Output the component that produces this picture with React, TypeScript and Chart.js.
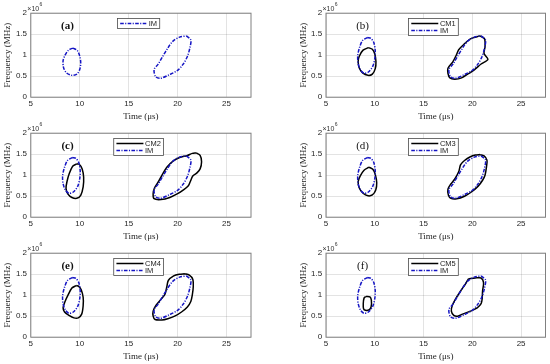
import React, { useEffect, useRef } from 'react';
import { Chart, registerables } from 'chart.js';

Chart.register(...registerables);

type Pt = [number, number];

// ---- axes ----
const xTickValues = [5, 10, 15, 20, 25];
const xTickLabels = ['5', '10', '15', '20', '25'];
const yTickValues = [0, 0.5, 1, 1.5, 2];
const yTickLabels = ['0', '0.5', '1', '1.5', '2'];
const xRange = [5, 27.5];
const yRange = [0, 2];
const xTitle = 'Time (μs)';
const yTitle = 'Frequency (MHz)';
const exponentBase = '×10';
const exponentPower = '6';

// ---- panel labels ----
const panelTags = ['(a)', '(b)', '(c)', '(d)', '(e)', '(f)'];
const tagPos: Pt = [8.75, 1.69];
const cmNames = ['', 'CM1', 'CM2', 'CM3', 'CM4', 'CM5'];
const imName = 'IM';

// ---- contours (time µs, frequency ×1e6 MHz) ----
const imSmallA: Pt[] = [
  [9.3, 1.17], [8.85, 1.12], [8.5, 1.0], [8.3, 0.87], [8.35, 0.7], [8.65, 0.58],
  [9.2, 0.52], [9.7, 0.55], [10.0, 0.66], [10.1, 0.82], [10.0, 0.98], [9.75, 1.11], [9.3, 1.17],
];
const imSmallB: Pt[] = [
  [9.25, 1.42], [8.75, 1.35], [8.42, 1.17], [8.25, 0.98], [8.3, 0.8], [8.55, 0.64],
  [8.9, 0.57], [9.35, 0.6], [9.8, 0.74], [10.0, 0.92], [10.05, 1.1], [9.9, 1.3], [9.6, 1.4], [9.25, 1.42],
];
const imLarge: Pt[] = [
  [20.9, 1.46], [21.35, 1.36], [21.25, 1.17], [21.0, 0.97], [20.55, 0.78], [20.0, 0.64],
  [19.2, 0.54], [18.25, 0.45], [17.75, 0.49], [17.6, 0.66], [18.0, 0.78], [18.5, 0.98],
  [19.0, 1.17], [19.5, 1.33], [20.2, 1.43], [20.9, 1.46],
];
const cm1Small: Pt[] = [
  [9.35, 1.18], [8.8, 1.12], [8.4, 0.97], [8.3, 0.85], [8.4, 0.7], [8.75, 0.58],
  [9.3, 0.52], [9.75, 0.55], [10.05, 0.68], [10.12, 0.85], [10.0, 1.03], [9.75, 1.14], [9.35, 1.18],
];
const cm1Large: Pt[] = [
  [20.8, 1.46], [21.25, 1.39], [21.3, 1.2], [21.2, 1.04], [21.6, 0.9], [20.9, 0.79],
  [20.2, 0.65], [19.6, 0.56], [18.9, 0.46], [18.2, 0.43], [17.7, 0.46], [17.5, 0.57],
  [17.5, 0.69], [18.0, 0.84], [18.35, 1.0], [18.6, 1.13], [19.1, 1.25], [19.8, 1.39], [20.8, 1.46],
];
const cm2Small: Pt[] = [
  [9.7, 1.27], [9.3, 1.22], [8.95, 1.05], [8.7, 0.85], [8.6, 0.68], [8.8, 0.55],
  [9.2, 0.47], [9.7, 0.45], [10.1, 0.52], [10.35, 0.72], [10.4, 0.95], [10.25, 1.15], [9.95, 1.26], [9.7, 1.27],
];
const cm2Large: Pt[] = [
  [21.9, 1.53], [22.3, 1.47], [22.45, 1.32], [22.3, 1.15], [21.95, 1.05], [21.55, 0.98],
  [21.3, 0.85], [21.1, 0.75], [20.6, 0.65], [20.0, 0.56], [19.2, 0.47], [18.3, 0.42],
  [17.6, 0.44], [17.5, 0.56], [17.65, 0.7], [18.05, 0.85], [18.45, 1.02], [18.9, 1.19],
  [19.5, 1.33], [20.2, 1.42], [21.0, 1.47], [21.5, 1.52], [21.9, 1.53],
];
const cm3Small: Pt[] = [
  [9.4, 1.19], [8.9, 1.12], [8.5, 0.98], [8.3, 0.85], [8.4, 0.7], [8.8, 0.57],
  [9.3, 0.51], [9.75, 0.53], [10.1, 0.65], [10.2, 0.82], [10.05, 1.02], [9.8, 1.14], [9.4, 1.19],
];
const cm3Large: Pt[] = [
  [20.8, 1.49], [21.2, 1.46], [21.5, 1.36], [21.45, 1.2], [21.3, 1.0], [21.05, 0.88],
  [20.6, 0.74], [19.9, 0.6], [19.2, 0.5], [18.4, 0.44], [17.8, 0.45], [17.55, 0.52],
  [17.5, 0.67], [17.8, 0.79], [18.2, 0.91], [18.6, 1.08], [18.8, 1.25], [19.2, 1.35],
  [19.8, 1.44], [20.3, 1.48], [20.8, 1.49],
];
const cm4Small: Pt[] = [
  [9.65, 1.23], [9.2, 1.17], [8.8, 1.0], [8.5, 0.85], [8.3, 0.7], [8.45, 0.6],
  [8.9, 0.52], [9.4, 0.46], [9.85, 0.46], [10.2, 0.55], [10.35, 0.75], [10.35, 0.95],
  [10.15, 1.13], [9.9, 1.21], [9.65, 1.23],
];
const cm4Large: Pt[] = [
  [20.7, 1.51], [21.2, 1.48], [21.55, 1.38], [21.6, 1.2], [21.5, 1.0], [21.35, 0.85],
  [21.0, 0.72], [20.4, 0.6], [19.7, 0.5], [19.0, 0.44], [18.4, 0.41], [17.7, 0.42],
  [17.5, 0.5], [17.5, 0.62], [17.8, 0.76], [18.3, 0.9], [18.7, 1.02], [18.9, 1.2],
  [19.05, 1.35], [19.6, 1.46], [20.2, 1.5], [20.7, 1.51],
];
const cm5Small: Pt[] = [
  [9.1, 0.97], [8.9, 0.93], [8.82, 0.8], [8.85, 0.68], [9.05, 0.64], [9.4, 0.65],
  [9.62, 0.72], [9.65, 0.88], [9.5, 0.96], [9.1, 0.97],
];
const cm5Large: Pt[] = [
  [19.6, 1.39], [20.3, 1.41], [20.9, 1.41], [21.15, 1.3], [21.05, 1.1], [21.0, 0.9],
  [20.9, 0.8], [20.5, 0.7], [19.8, 0.62], [19.0, 0.55], [18.5, 0.5], [18.1, 0.52],
  [17.85, 0.62], [17.95, 0.76], [18.3, 0.92], [18.8, 1.1], [19.3, 1.27], [19.6, 1.39],
];

const panelImContours: Pt[][][] = [
  [imSmallA, imLarge],
  [imSmallB, imLarge],
  [imSmallB, imLarge],
  [imSmallB, imLarge],
  [imSmallB, imLarge],
  [imSmallB, imLarge],
];
const panelCmContours: Pt[][][] = [
  [],
  [cm1Small, cm1Large],
  [cm2Small, cm2Large],
  [cm3Small, cm3Large],
  [cm4Small, cm4Large],
  [cm5Small, cm5Large],
];

// ---- styles ----
const IM_COLOR = '#1414c4';
const IM_DASH = [3.6, 1.4, 1.1, 1.4];
const CM_COLOR = '#000000';
const SANS = '"Liberation Sans", Arial, sans-serif';
const SERIF = '"Liberation Serif", "Times New Roman", serif';

const CANVAS_W = 275;
const CANVAS_H = 124;
const PLOT_TOP = 13.2;
const PLOT_BOTTOM = 97.2;

const boxLegendPlugin = {
  id: 'boxLegend',
  afterDraw(chart: any) {
    const ds = chart.data.datasets as any[];
    const seen = new Set<string>();
    const items: any[] = [];
    for (let i = ds.length - 1; i >= 0; i--) {
      const d = ds[i];
      if (!seen.has(d.label)) {
        seen.add(d.label);
        items.push({ label: d.label, color: d.borderColor, dash: d.borderDash || [] });
      }
    }
    if (!items.length) return;
    const { ctx, chartArea } = chart;
    ctx.save();
    ctx.font = `7.5px ${SANS}`;
    const lineLen = 27, padL = 2.7, gap = 1.6, padR = 2.6, rowH = 7;
    const textW = Math.max(...items.map((it) => ctx.measureText(it.label).width));
    const w = padL + lineLen + gap + textW + padR;
    const h = rowH * items.length + 3;
    const cx = (chartArea.left + chartArea.right) / 2 - 2.3;
    const left = cx - w / 2;
    const top = chartArea.top + 5.3;
    ctx.fillStyle = '#ffffff';
    ctx.fillRect(left, top, w, h);
    ctx.strokeStyle = '#4a4a4a';
    ctx.lineWidth = 0.8;
    ctx.strokeRect(left, top, w, h);
    items.forEach((it, i) => {
      const y = top + 1.5 + rowH * i + rowH / 2;
      ctx.strokeStyle = it.color;
      ctx.lineWidth = 1.5;
      ctx.setLineDash(it.dash);
      ctx.beginPath();
      ctx.moveTo(left + padL, y);
      ctx.lineTo(left + padL + lineLen, y);
      ctx.stroke();
      ctx.setLineDash([]);
      ctx.fillStyle = '#222222';
      ctx.textBaseline = 'middle';
      ctx.textAlign = 'left';
      ctx.fillText(it.label, left + padL + lineLen + gap, y + 0.3);
    });
    ctx.restore();
  },
};

const decorPlugin = {
  id: 'decor',
  afterDraw(chart: any, _args: any, opts: any) {
    const { ctx, chartArea: a } = chart;
    ctx.save();
    ctx.strokeStyle = '#808080';
    ctx.lineWidth = 1;
    ctx.strokeRect(a.left, a.top, a.right - a.left, a.bottom - a.top);
    ctx.fillStyle = '#333333';
    ctx.textAlign = 'left';
    ctx.textBaseline = 'alphabetic';
    ctx.font = `7px ${SANS}`;
    const ex = a.left - 3.5;
    ctx.fillText(exponentBase, ex, a.top - 2.6);
    const bw = ctx.measureText(exponentBase).width;
    ctx.font = `5px ${SANS}`;
    ctx.fillText(exponentPower, ex + bw + 0.3, a.top - 6.8);
    // panel tag
    const xs = chart.scales.x, ys = chart.scales.y;
    ctx.font = `${opts.bold ? 'bold ' : ''}11px ${SERIF}`;
    ctx.fillStyle = '#111111';
    ctx.textAlign = 'center';
    ctx.textBaseline = 'middle';
    ctx.fillText(opts.tag, xs.getPixelForValue(tagPos[0]), ys.getPixelForValue(tagPos[1]));
    ctx.restore();
  },
};

function Panel({ index }: { index: number }) {
  const ref = useRef<HTMLCanvasElement | null>(null);
  const col = index % 2;
  const row = Math.floor(index / 2);

  useEffect(() => {
    if (!ref.current) return;
    const datasets: any[] = [];
    panelImContours[index].forEach((c) => {
      datasets.push({
        label: imName,
        data: c.map(([x, y]) => ({ x, y })),
        showLine: true,
        borderColor: IM_COLOR,
        borderDash: IM_DASH,
        borderWidth: 1.5,
        pointRadius: 0,
        tension: 0.3,
        fill: false,
      });
    });
    panelCmContours[index].forEach((c) => {
      datasets.push({
        label: cmNames[index],
        data: c.map(([x, y]) => ({ x, y })),
        showLine: true,
        borderColor: CM_COLOR,
        borderDash: [],
        borderWidth: 1.5,
        pointRadius: 0,
        tension: 0.3,
        fill: false,
      });
    });

    const plotLeft = col === 0 ? 30.8 : 51;
    const plotRight = col === 0 ? 251 : 270.5;
    const padLeft = col === 0 ? 0 : 21;
    const yAxisW = plotLeft - padLeft;

    const chart = new Chart(ref.current, {
      type: 'scatter',
      data: { datasets },
      options: {
        animation: false,
        responsive: false,
        devicePixelRatio: 1,
        layout: {
          padding: { left: padLeft, right: CANVAS_W - plotRight, top: PLOT_TOP, bottom: 0 },
        },
        plugins: {
          legend: { display: false },
          tooltip: { enabled: false },
          decor: { tag: panelTags[index], bold: col === 0 },
        } as any,
        scales: {
          x: {
            type: 'linear',
            min: xRange[0],
            max: xRange[1],
            afterBuildTicks: (s: any) => {
              s.ticks = xTickValues.map((v) => ({ value: v }));
            },
            afterFit: (s: any) => {
              s.height = CANVAS_H - PLOT_BOTTOM;
            },
            ticks: {
              padding: 1.5,
              color: '#262626',
              font: { family: SANS, size: 8 },
              maxRotation: 0,
              autoSkip: false,
              callback: (v: any) => xTickLabels[xTickValues.indexOf(Number(v))] ?? '',
            },
            grid: { color: 'rgba(0,0,0,0.11)', lineWidth: 1, drawTicks: false },
            border: { display: false },
            title: {
              display: true,
              text: xTitle,
              color: '#222222',
              font: { family: SERIF, size: 9 },
              padding: { top: 0, bottom: 1.9 },
            },
          },
          y: {
            type: 'linear',
            min: yRange[0],
            max: yRange[1],
            afterBuildTicks: (s: any) => {
              s.ticks = yTickValues.map((v) => ({ value: v }));
            },
            afterFit: (s: any) => {
              s.width = yAxisW;
            },
            ticks: {
              padding: 3.8,
              color: '#262626',
              font: { family: SANS, size: 8 },
              autoSkip: false,
              callback: (v: any) => yTickLabels[yTickValues.indexOf(Number(v))] ?? '',
            },
            grid: { color: 'rgba(0,0,0,0.11)', lineWidth: 1, drawTicks: false },
            border: { display: false },
            title: {
              display: true,
              text: yTitle,
              color: '#222222',
              font: { family: SERIF, size: 9 },
              padding: { top: 2, bottom: 0 },
            },
          },
        },
      } as any,
      plugins: [decorPlugin as any, boxLegendPlugin as any],
    });
    return () => chart.destroy();
  }, [index, col]);

  return (
    <div
      style={{
        position: 'absolute',
        left: col * 275,
        top: row * 120,
        width: CANVAS_W,
        height: CANVAS_H,
      }}
    >
      <canvas ref={ref} width={CANVAS_W} height={CANVAS_H} style={{ width: CANVAS_W, height: CANVAS_H }} />
    </div>
  );
}

export default function App() {
  return (
    <div
      style={{
        position: 'absolute',
        left: 0,
        top: 0,
        width: 550,
        height: 364,
        overflow: 'hidden',
        background: '#ffffff',
      }}
    >
      {[0, 1, 2, 3, 4, 5].map((i) => (
        <Panel key={i} index={i} />
      ))}
    </div>
  );
}
